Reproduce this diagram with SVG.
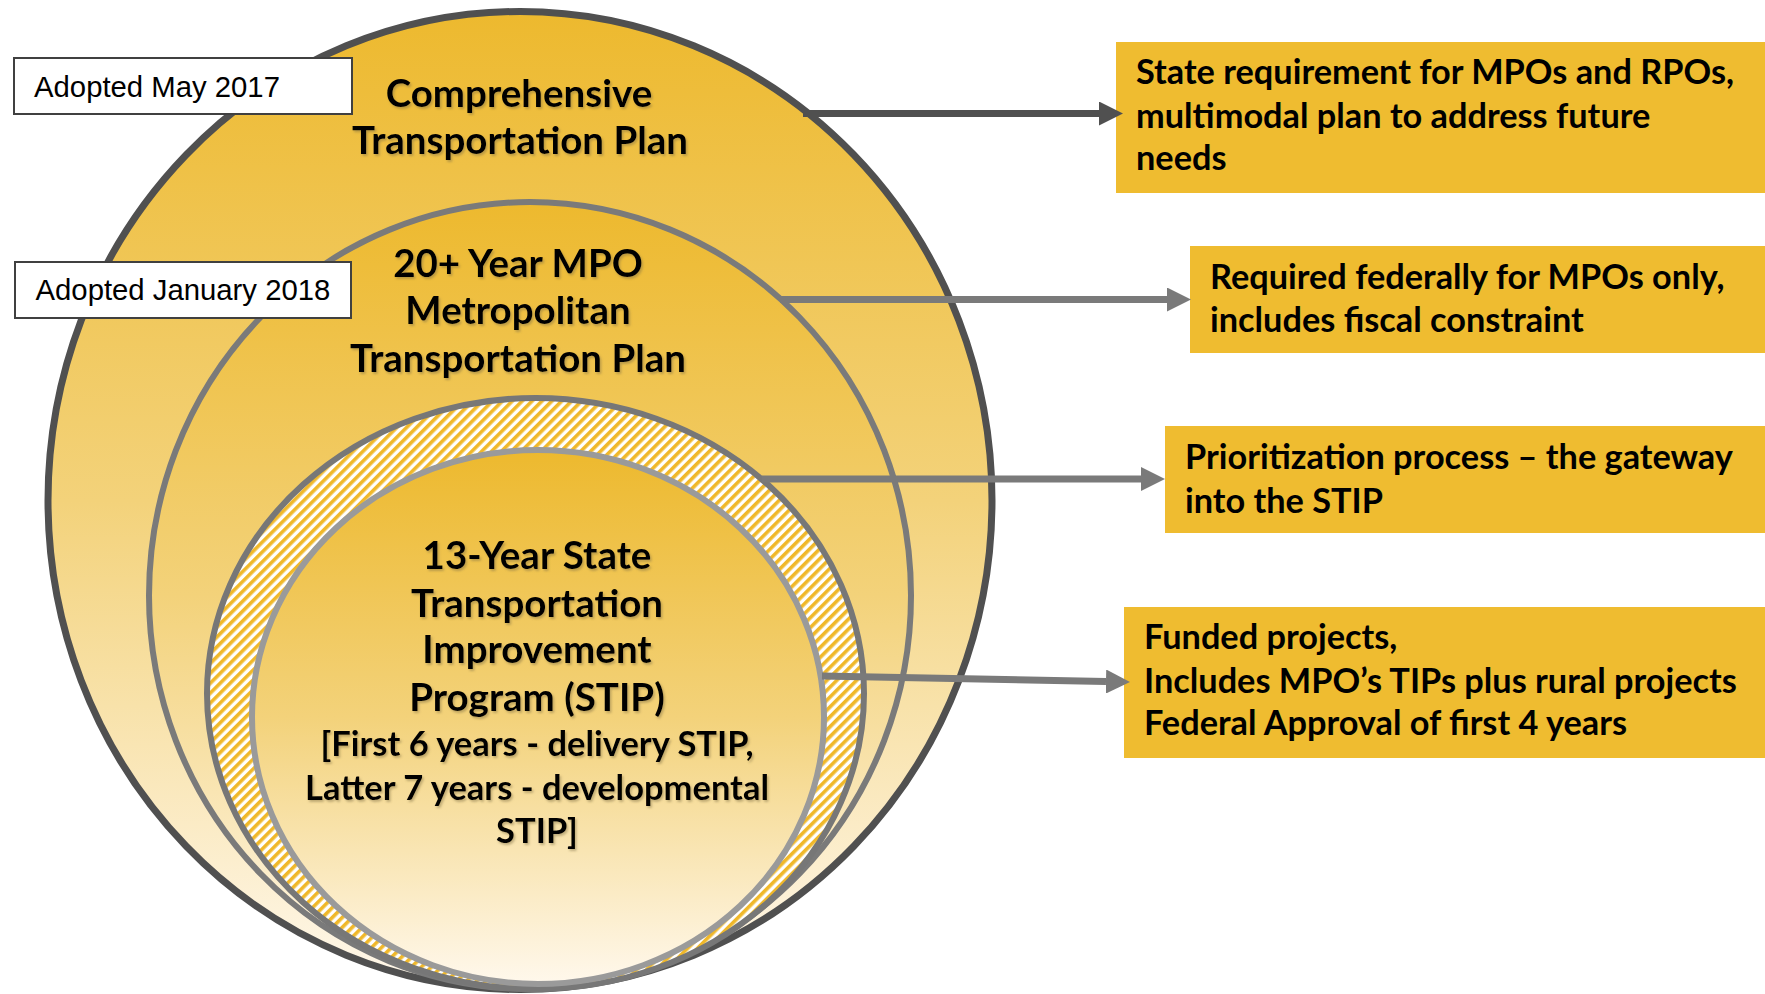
<svg xmlns="http://www.w3.org/2000/svg" width="1765" height="994" viewBox="0 0 1765 994">
<style>
.title{font-family:Lato,"Open Sans",sans-serif;font-weight:700;font-size:38.5px;fill:#000;text-anchor:middle}
.sub{font-family:Lato,"Open Sans",sans-serif;font-weight:700;font-size:34.5px;fill:#000;text-anchor:middle}
.note{font-family:Lato,"Open Sans",sans-serif;font-weight:700;font-size:34.3px;fill:#000}
.adopt{font-family:"Liberation Sans",Arial,sans-serif;font-size:29.3px;fill:#000}
.abox{fill:#fff;stroke:#404040;stroke-width:2}
.gbox{fill:#EFBC30}
.conn{fill:none;stroke-width:7}
</style>
<defs>
<linearGradient id="gold" x1="0" y1="0" x2="0" y2="1">
<stop offset="0" stop-color="#EDB92E"/>
<stop offset="0.5" stop-color="#F3D27A"/>
<stop offset="1" stop-color="#FFF8EC"/>
</linearGradient>
<pattern id="hatch" width="7" height="7" patternUnits="userSpaceOnUse" patternTransform="rotate(45)">
<rect width="7" height="7" fill="#fff"/>
<rect width="3.6" height="7" fill="#F0B82A"/>
</pattern>
<filter id="sh" x="-10%" y="-10%" width="120%" height="130%">
<feDropShadow dx="1.5" dy="2" stdDeviation="1" flood-color="#7a6a40" flood-opacity="0.45"/>
</filter>
<marker id="ahDark" markerUnits="userSpaceOnUse" markerWidth="24" markerHeight="24" viewBox="0 -12 24 24" refX="0" refY="0" orient="auto">
<path d="M0,-12 L24,0 L0,12 Z" fill="#505050"/>
</marker>
<marker id="ahGray" markerUnits="userSpaceOnUse" markerWidth="24" markerHeight="24" viewBox="0 -12 24 24" refX="0" refY="0" orient="auto">
<path d="M0,-12 L24,0 L0,12 Z" fill="#7A7A7A"/>
</marker>
</defs>

<g id="ctp">
<ellipse cx="520" cy="500.5" rx="472" ry="489" fill="url(#gold)" stroke="#505050" stroke-width="7"/>
</g>
<g id="mtp">
<ellipse cx="530" cy="595.5" rx="381" ry="393.5" fill="url(#gold)" stroke="#7A7A7A" stroke-width="6"/>
</g>
<g id="prioritization">
<ellipse cx="535.5" cy="693.5" rx="328.5" ry="295.5" fill="url(#hatch)" stroke="#777" stroke-width="6"/>
</g>
<g id="stip">
<ellipse cx="538" cy="717" rx="286" ry="267" fill="url(#gold)" stroke="#9A9A9A" stroke-width="6"/>
</g>

<g id="ctp-label" filter="url(#sh)">
<text class="title" x="519" y="107">Comprehensive</text>
<text class="title" x="520" y="154">Transportation Plan</text>
</g>
<g id="mtp-label" filter="url(#sh)">
<text class="title" x="518" y="277">20+ Year MPO</text>
<text class="title" x="518" y="324">Metropolitan</text>
<text class="title" x="518" y="372">Transportation Plan</text>
</g>
<g id="stip-label" filter="url(#sh)">
<text class="title" x="537" y="569">13-Year State</text>
<text class="title" x="537" y="617">Transportation</text>
<text class="title" x="537" y="663">Improvement</text>
<text class="title" x="537" y="711">Program (STIP)</text>
<text class="sub" x="537" y="756">[First 6 years - delivery STIP,</text>
<text class="sub" x="537" y="800">Latter 7 years - developmental</text>
<text class="sub" x="537" y="843">STIP]</text>
</g>

<g id="adopted-2017">
<rect class="abox" x="14" y="58" width="338" height="56"/>
<text class="adopt" x="34" y="97">Adopted May 2017</text>
</g>
<g id="adopted-2018">
<rect class="abox" x="15" y="262" width="336" height="56"/>
<text class="adopt" x="35.5" y="300">Adopted January 2018</text>
</g>

<g id="note-ctp">
<rect class="gbox" x="1116" y="42" width="649" height="151"/>
<text class="note" x="1136" y="84">State requirement for MPOs and RPOs,</text>
<text class="note" x="1136" y="128">multimodal plan to address future</text>
<text class="note" x="1136" y="170">needs</text>
</g>
<g id="note-mtp">
<rect class="gbox" x="1190" y="246" width="575" height="107"/>
<text class="note" x="1210" y="289">Required federally for MPOs only,</text>
<text class="note" x="1210" y="332">includes fiscal constraint</text>
</g>
<g id="note-prioritization">
<rect class="gbox" x="1165" y="426" width="600" height="107"/>
<text class="note" x="1185" y="469">Prioritization process – the gateway</text>
<text class="note" x="1185" y="513">into the STIP</text>
</g>
<g id="note-stip">
<rect class="gbox" x="1124" y="607" width="641" height="151"/>
<text class="note" x="1144" y="649">Funded projects,</text>
<text class="note" x="1144" y="693">Includes MPO’s TIPs plus rural projects</text>
<text class="note" x="1144" y="735">Federal Approval of first 4 years</text>
</g>

<g id="connectors">
<line class="conn" x1="803" y1="113.5" x2="1099" y2="113.5" stroke="#505050" marker-end="url(#ahDark)"/>
<line class="conn" x1="780" y1="299.5" x2="1167" y2="299.5" stroke="#7A7A7A" marker-end="url(#ahGray)"/>
<line class="conn" x1="762" y1="479" x2="1141" y2="479" stroke="#7A7A7A" marker-end="url(#ahGray)"/>
<line class="conn" x1="822" y1="676" x2="1106" y2="681.5" stroke="#7A7A7A" marker-end="url(#ahGray)"/>
</g>
</svg>
